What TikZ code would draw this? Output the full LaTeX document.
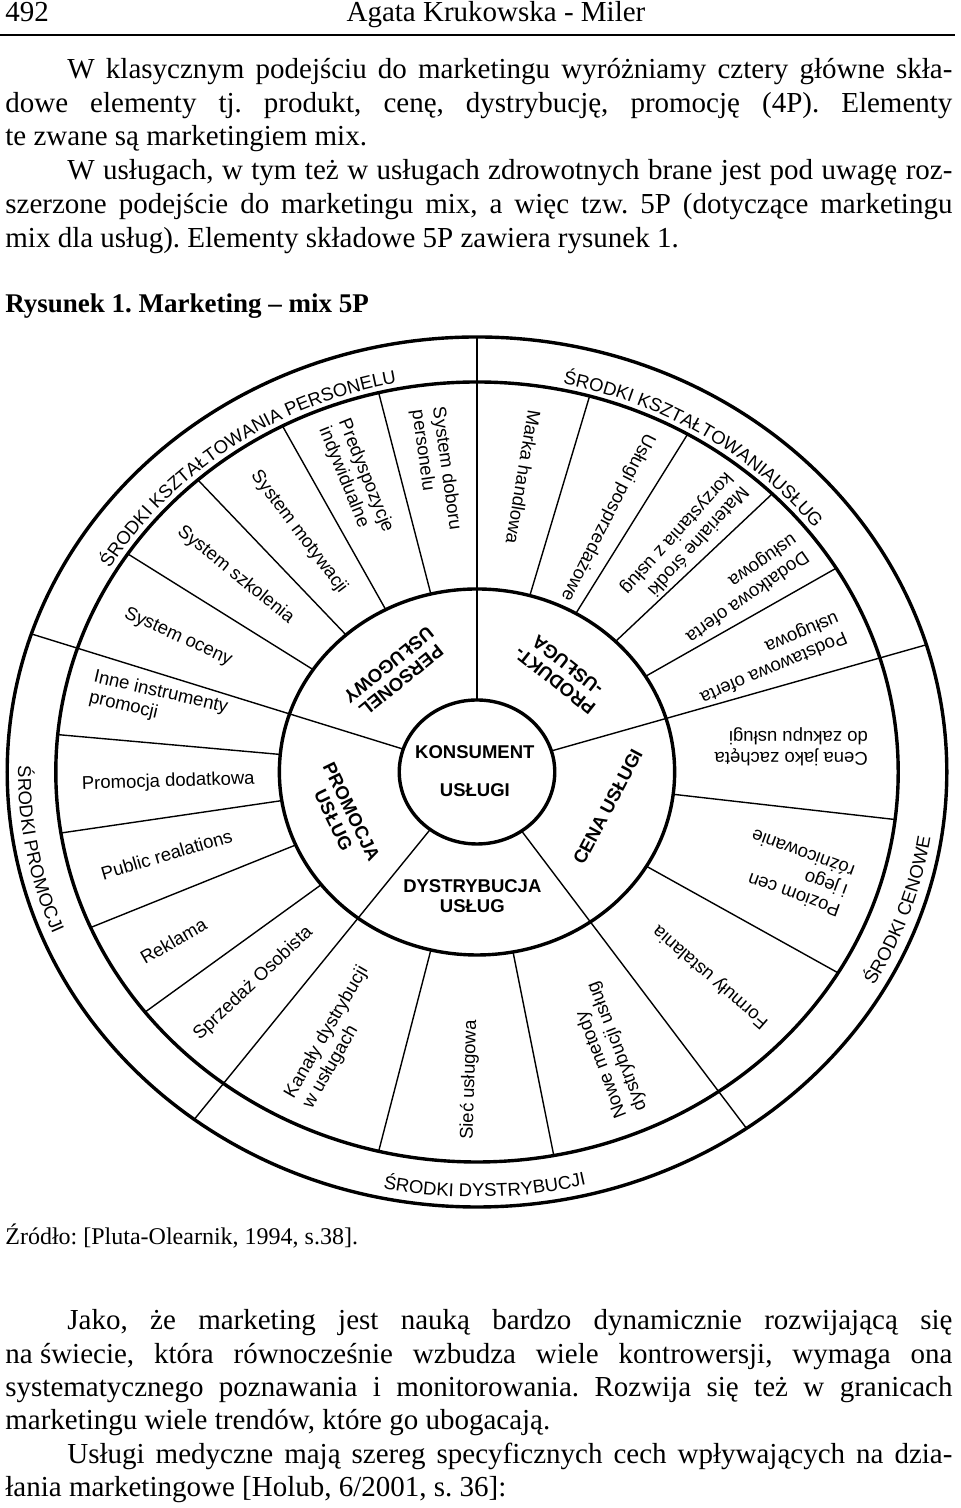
\documentclass[tikz,border=0pt]{standalone}
\usepackage{fontspec}
\setmainfont{Liberation Serif}
\newfontfamily\figfont{Liberation Sans}
\usetikzlibrary{decorations.text}
\newcommand{\ringfont}{\figfont\fontsize{9.25}{10}\selectfont}

\begin{document}
\frenchspacing
\begin{tikzpicture}[x=0.5pt, y=0.5pt,
    ring/.style={line width=1.7pt},
    spoke/.style={line width=0.7pt},
    body/.style={anchor=base west, inner sep=0pt, font=\fontsize{14.5}{17}\selectfont},
    segtext/.style={inner sep=0pt, align=left, font=\figfont\fontsize{9.25}{10.5}\selectfont},
    coretext/.style={inner sep=0pt, align=center, font=\figfont\bfseries\fontsize{9.25}{10}\selectfont},
    ringtext/.style={decorate, decoration={text along path, text align=center, text={|\ringfont|#1}}}]
\fill[white] (0,0) rectangle (960,1508);
\useasboundingbox (0,0) rectangle (960,1508);

% page header
\node[body] (page) at (5,1486) {492};
\node[body, anchor=base] (author) at (496,1486) {Agata Krukowska - Miler};
\coordinate (rulel) at (0,1473);
\coordinate (ruler) at (955,1473);
\draw[line width=0.75pt] (rulel) -- (ruler);

% text above the figure
\node[body] (l1) at (67,1429) {\makebox[442.5pt][s]{W klasycznym podejściu do marketingu wyróżniamy cztery główne skła-}};
\node[body] (l2) at (5,1395.5) {\makebox[473.5pt][s]{dowe elementy tj. produkt, cenę, dystrybucję, promocję (4P). Elementy}};
\node[body] (l3) at (5,1362) {te zwane są marketingiem mix.};
\node[body] (l4) at (67,1328) {\makebox[442.5pt][s]{W usługach, w tym też w usługach zdrowotnych brane jest pod uwagę roz-}};
\node[body] (l5) at (5,1294.5) {\makebox[473.5pt][s]{szerzone podejście do marketingu mix, a więc tzw. 5P (dotyczące marketingu}};
\node[body] (l6) at (5,1260.5) {mix dla usług). Elementy składowe 5P zawiera rysunek 1.};
\node[body, font=\bfseries\fontsize{13.5}{16}\selectfont] (title) at (5,1195) {Rysunek 1. Marketing – mix 5P};

% the wheel
\begin{scope}[shift={(477,736)}, xscale=1.08]
  \draw[ring] (0,0) circle (72);
  \draw[ring] (0,0) circle (183);
  \draw[ring] (0,0) circle (390);
  \draw[ring] (0,0) circle (435);
  \foreach \a in {17,90,161.5,233,305}
    \draw[spoke] (\a:72) -- (\a:435);
  \foreach \a in {31.5,45.5,60,74.5,103.5,117.5,131.5,146,174.5,189,203.5,218,256.5,280.5,329,353}
    \draw[spoke] (\a:183) -- (\a:390);

  % centre
  \node[coretext] (konsument) at (-2,20) {KONSUMENT};
  \node[coretext] (uslugi) at (-2,-18) {USŁUGI};

  % inner ring
  \node[coretext, rotate=218.8] (personel) at (127.5:125) {PERSONEL\\USŁUGOWY};
  \node[coretext, rotate=141.6] (produkt) at (51.8:126) {PRODUKT-\\-USŁUGA};
  \node[coretext, rotate=-64] (promocja) at (199.4:132) {PROMOCJA\\USŁUG};
  \node[coretext] (dystrybucja) at (268:124) {DYSTRYBUCJA\\USŁUG};
  \node[coretext, rotate=62] (cena) at (-16:126) {CENA USŁUGI};

  % segments
  \foreach \t/\r/\rot/\txt [count=\i] in {
      97.2/304/-82/{System doboru\\personelu},
      111/313/-68/{Predyspozycje\\indywidualne},
      124.5/291/-53/{System motywacji},
      138.6/298/-39/{System szkolenia},
      154/308/-24.5/{System oceny},
      166.8/303/-13/{Inne instrumenty\\promocji},
      182/286/1.8/{Promocja dodatkowa},
      196/299/16.5/{Public realations},
      211/328/30/{Reklama},
      225.6/296/43.5/{Sprzedaż Osobista},
      243.8/296/60/{Kanały dystrybucji\\w usługach},
      268.7/308/88.3/{Sieć usługowa},
      293.5/303/111/{Nowe metody\\dystrybucji usług},
      316.6/298/139/{Formuły ustalania},
      341/312/160/{Poziom cen\\i jego\\różnicowanie},
      5/292/180/{Cena jako zachęta\\do zakupu usługi},
      23/294/-157/{Podstawowa oferta\\usługowa},
      37/306/-145/{Dodatkowa oferta\\usługowa},
      50.4/301/-132/{Materialne środki\\korzystania z usług},
      64.6/282/-117/{Usługi posprzedażowe},
      81.7/298/-99.5/{Marka handlowa}}
    \node[segtext, rotate=\rot] (seg\i) at (\t:\r) {\txt};

  % outer ring
  \path[ringtext={ŚRODKI KSZTAŁTOWANIA PERSONELU}] (165.5:396) arc[start angle=165.5, end angle=85.5, radius=396];
  \path[ringtext={ŚRODKI KSZTAŁTOWANIAUSŁUG}] (97.6:396) arc[start angle=97.6, end angle=17.6, radius=396];
  \path[ringtext={ŚRODKI CENOWE}] (-59:425) arc[start angle=-59, end angle=21, radius=425];
  \path[ringtext={ŚRODKI DYSTRYBUCJI}] (231:425) arc[start angle=231, end angle=311, radius=425];
  \path[ringtext={ŚRODKI PROMOCJI}] (150.5:425) arc[start angle=150.5, end angle=230.5, radius=425];
\end{scope}

% source
\node[body, font=\fontsize{12}{14}\selectfont] (source) at (5,263) {Źródło: [Pluta-Olearnik, 1994, s.38].};

% text below the figure
\node[body] (b1) at (67,178) {\makebox[442.5pt][s]{Jako, że marketing jest nauką bardzo dynamicznie rozwijającą się}};
\node[body] (b2) at (5,144.5) {\makebox[473.5pt][s]{na\hspace{0.25em}świecie, która równocześnie wzbudza wiele kontrowersji, wymaga ona}};
\node[body] (b3) at (5,111) {\makebox[473.5pt][s]{systematycznego poznawania i monitorowania. Rozwija się też w granicach}};
\node[body] (b4) at (5,78) {marketingu wiele trendów, które go ubogacają.};
\node[body] (b5) at (67,44.5) {\makebox[442.5pt][s]{Usługi medyczne mają szereg specyficznych cech wpływających na dzia-}};
\node[body] (b6) at (5,11) {łania marketingowe [Holub, 6/2001, s. 36]:};
\end{tikzpicture}
\end{document}
